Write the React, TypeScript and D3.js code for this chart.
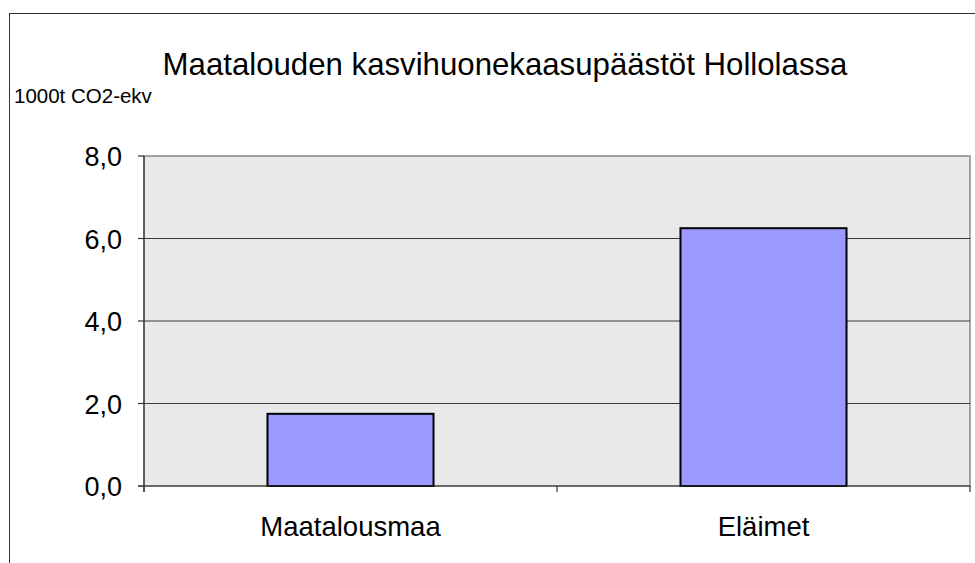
import React from "react";
import * as d3 from "d3";

const categories = ["Maatalousmaa", "Eläimet"];
const values = [1.75, 6.25];
const yTicks = [0, 2, 4, 6, 8];
const title = "Maatalouden kasvihuonekaasupäästöt Hollolassa";
const unitLabel = "1000t CO2-ekv";

export default function App() {
  const W = 975, H = 563;
  const left = 144, right = 970, top = 156, bottom = 486;
  const x = d3.scaleBand<string>().domain(categories).range([left, right]).paddingInner(0).paddingOuter(0);
  const y = d3.scaleLinear().domain([0, 8]).range([bottom, top]);
  const bw = x.bandwidth();
  const barW = bw * 0.402;
  const fmt = (v: number) => d3.format(".1f")(v).replace(".", ",");
  const font = "Liberation Sans, Arial, sans-serif";
  const boundaries = [left, ...categories.map((c) => (x(c) as number) + bw)];
  return (
    <svg width={W} height={H} style={{ position: "absolute", left: 0, top: 0 }} fontFamily={font}>
      <rect x={0} y={0} width={W} height={H} fill="#fff" />
      <rect x={9.5} y={13.5} width={W + 10} height={H + 10} fill="#fff" stroke="#333" strokeWidth={1} />
      <text x={505} y={75} fontSize={31.2} textAnchor="middle" fill="#000">{title}</text>
      <text x={14} y={103} fontSize={20.5} fill="#000">{unitLabel}</text>
      <rect x={left} y={top} width={right - left} height={bottom - top} fill="#e9e9e9" stroke="#888" strokeWidth={1.5} />
      {yTicks.filter((t) => t > 0 && t < 8).map((t) => (
        <line key={t} x1={left} x2={right} y1={y(t)} y2={y(t)} stroke="#3a3a3a" strokeWidth={1} />
      ))}
      {categories.map((c, i) => {
        const cx = (x(c) as number) + bw / 2;
        return (
          <rect key={c} x={cx - barW / 2} y={y(values[i])} width={barW} height={bottom - y(values[i])}
            fill="#9999ff" stroke="#000" strokeWidth={2} />
        );
      })}
      <line x1={left} x2={left} y1={top} y2={bottom + 6} stroke="#333" strokeWidth={1.2} />
      <line x1={left - 6} x2={right} y1={bottom} y2={bottom} stroke="#333" strokeWidth={1.2} />
      {yTicks.map((t) => (
        <g key={t}>
          <line x1={left - 6} x2={left} y1={y(t)} y2={y(t)} stroke="#333" strokeWidth={1.2} />
          <text x={122} y={y(t) + 10} fontSize={27} textAnchor="end" fill="#000">{fmt(t)}</text>
        </g>
      ))}
      {boundaries.map((b, i) => (
        <line key={i} x1={b} x2={b} y1={bottom} y2={bottom + 6} stroke="#333" strokeWidth={1.2} />
      ))}
      {categories.map((c) => (
        <text key={c} x={(x(c) as number) + bw / 2} y={536} fontSize={27.5} textAnchor="middle" fill="#000">{c}</text>
      ))}
    </svg>
  );
}
